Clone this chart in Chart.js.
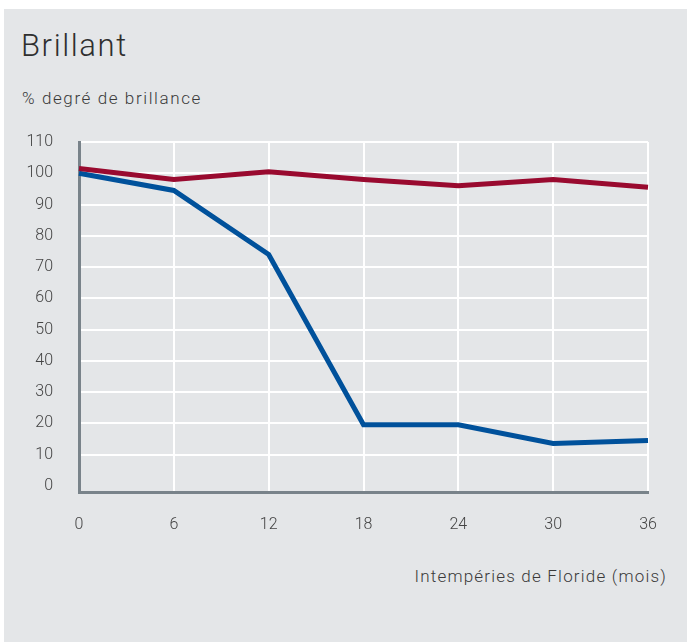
<!DOCTYPE html>
<html>
<head>
<meta charset="utf-8">
<script src="https://cdn.jsdelivr.net/npm/chart.js@4.4.1/dist/chart.umd.min.js"></script>
<style>
  html, body { margin: 0; padding: 0; background: #fff; }
  body { width: 687px; height: 642px; position: relative; overflow: hidden; font-family: Roboto, "DejaVu Sans", sans-serif; font-weight: 300; color: #333; }
  .panel { position: absolute; left: 4px; top: 9px; width: 683px; height: 633px; background: #e4e6e8; }
  .title { position: absolute; left: 21px; top: 28px; font-size: 31px; line-height: 36px; letter-spacing: 1.6px; color: #2f2f2f; }
  .subtitle { position: absolute; left: 22px; top: 88px; font-size: 17px; line-height: 20px; letter-spacing: 1.6px; color: #3a3a3a; }
  .xtitle { position: absolute; right: 20px; top: 566px; font-size: 17px; line-height: 20px; letter-spacing: 1.2px; color: #3a3a3a; }
  .wrap { position: absolute; left: 0; top: 0; width: 687px; height: 642px; }
</style>
</head>
<body>
<div class="panel"></div>
<div class="title">Brillant</div>
<div class="subtitle">% degré de brillance</div>
<div class="xtitle">Intempéries de Floride (mois)</div>
<div class="wrap"><canvas id="gloss"></canvas></div>
<script>
// months of Florida exposure
const months = ['0', '6', '12', '18', '24', '30', '36'];
// gloss retention, %
const redValues = [101.5, 98, 100.5, 98, 96, 98, 95.5];
const blueValues = [100, 94.5, 74, 19.5, 19.5, 13.5, 14.5];
const yTicks = [0, 10, 20, 30, 40, 50, 60, 70, 80, 90, 100, 110];

const tickFont = { family: 'Roboto', size: 16, weight: 300 };

new Chart(document.getElementById('gloss'), {
	type: 'line',
	data: {
		labels: months,
		datasets: [
			{ label: 'A', data: redValues, borderColor: '#990a2f', borderWidth: 5, pointRadius: 0, tension: 0 },
			{ label: 'B', data: blueValues, borderColor: '#00519b', borderWidth: 5, pointRadius: 0, tension: 0 }
		]
	},
	options: {
		responsive: true,
		maintainAspectRatio: false,
		animation: false,
		layout: { padding: { left: 0, right: 39, top: 142, bottom: 50 } },
		plugins: { legend: { display: false }, tooltip: { enabled: false } },
		scales: {
			x: {
				offset: false,
				grid: { color: '#ffffff', lineWidth: 2, drawTicks: false },
				border: { color: '#79838a', width: 3 },
				ticks: { color: '#444', font: tickFont, padding: 23, maxRotation: 0 },
				afterFit: (s) => { s.height = 100; }
			},
			y: {
				min: -2,
				max: 110,
				afterBuildTicks: (s) => { s.ticks = yTicks.map(v => ({ value: v })); },
				grid: {
					color: (c) => (c.tick && c.tick.value === 0 ? 'rgba(0,0,0,0)' : '#ffffff'),
					lineWidth: 2,
					drawTicks: false
				},
				border: { color: '#79838a', width: 3 },
				ticks: { color: '#444', font: tickFont, padding: 26 },
				afterFit: (s) => { s.width = 79; }
			}
		}
	}
});
</script>
</body>
</html>
